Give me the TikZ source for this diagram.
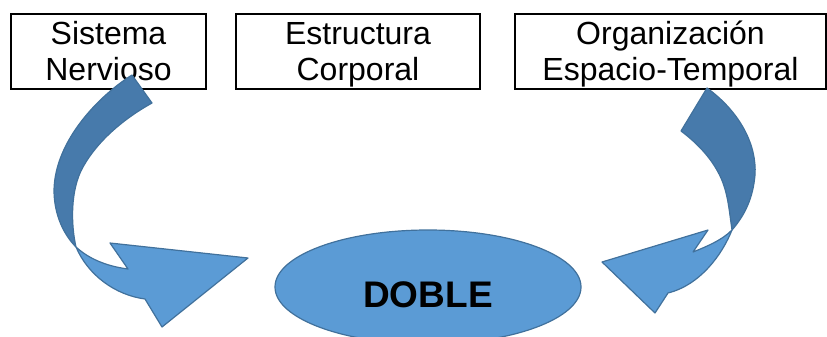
\documentclass[tikz,border=0pt]{standalone}
\usepackage{fontspec}
\setmainfont{Liberation Sans}
\usetikzlibrary{shapes.geometric}
\definecolor{shapefill}{HTML}{5B9BD5}
\definecolor{shapeback}{HTML}{477AAB}
\definecolor{shapeline}{HTML}{41719C}
\begin{document}
\begin{tikzpicture}[x=1pt,y=-1pt,
  textbox/.style={draw,line width=1.2pt,inner sep=0pt,minimum height=75pt,
    align=center,font=\fontsize{32}{36}\selectfont},
  blob/.style={ellipse,fill=shapefill,draw=shapeline,line width=1.2pt,inner sep=0pt}]
% pixel coordinates, y pointing down
\global\def\backdraw{\filldraw[fill=shapeback,draw=shapeline,line width=1.2pt,line join=round]}
\global\def\frontdraw{\filldraw[fill=shapefill,draw=shapeline,line width=1.2pt,line join=round]}
\global\def\firstline{\rule{0pt}{30pt}}
\global\def\lastline{\rule[-7pt]{0pt}{7pt}}
\useasboundingbox (0,0) rectangle (827,337);
\node[textbox,minimum width=195pt] (sistema) at (108.5,51.5)
 {Sistema\firstline\\\lastline Nervioso};
\node[textbox,minimum width=244pt] (estructura) at (358,51.5)
 {Estructura\firstline\\\lastline Corporal};
\node[textbox,minimum width=311pt] (organizacion) at (670.5,51.5)
 {Organización\firstline\\\lastline Espacio-Temporal};
\node[blob,minimum width=306pt,minimum height=114pt,
 font=\fontsize{37}{44}\bfseries\selectfont,text height=40pt,text depth=0pt]
 (doble) at (428,287) {DOBLE};
% left arrow
\backdraw (132,75)
 ..controls (100,95) and (55,140)
 ..(54,190)
 ..controls (54,215) and (64,235)
 ..(76,247)
 ..controls (71,225) and (70,190)
 ..(83,167)
 ..controls (98,140) and (125,118)
 ..(152,103)
 --cycle;
\frontdraw (76,247)
 ..controls (88,275) and (115,295)
 ..(145,299)
 --(162,327)
 --(248,258)
 --(110,243)
 --(128,269)
 ..controls (105,266) and (88,258)
 ..(76,247)
 --cycle;
% right arrow
\backdraw (707,88)
 ..controls (740,112) and (757,145)
 ..(755,175)
 ..controls (753,198) and (745,215)
 ..(732,230)
 ..controls (729,210) and (728,190)
 ..(718,172)
 ..controls (710,157) and (697,143)
 ..(681,131)
 --cycle;
\frontdraw (732,230)
 ..controls (722,255) and (700,285)
 ..(668,293)
 --(655,313)
 --(602,262)
 --(708,230)
 --(693,252)
 ..controls (708,246) and (722,240)
 ..(732,230)
 --cycle;
\end{tikzpicture}
\end{document}
